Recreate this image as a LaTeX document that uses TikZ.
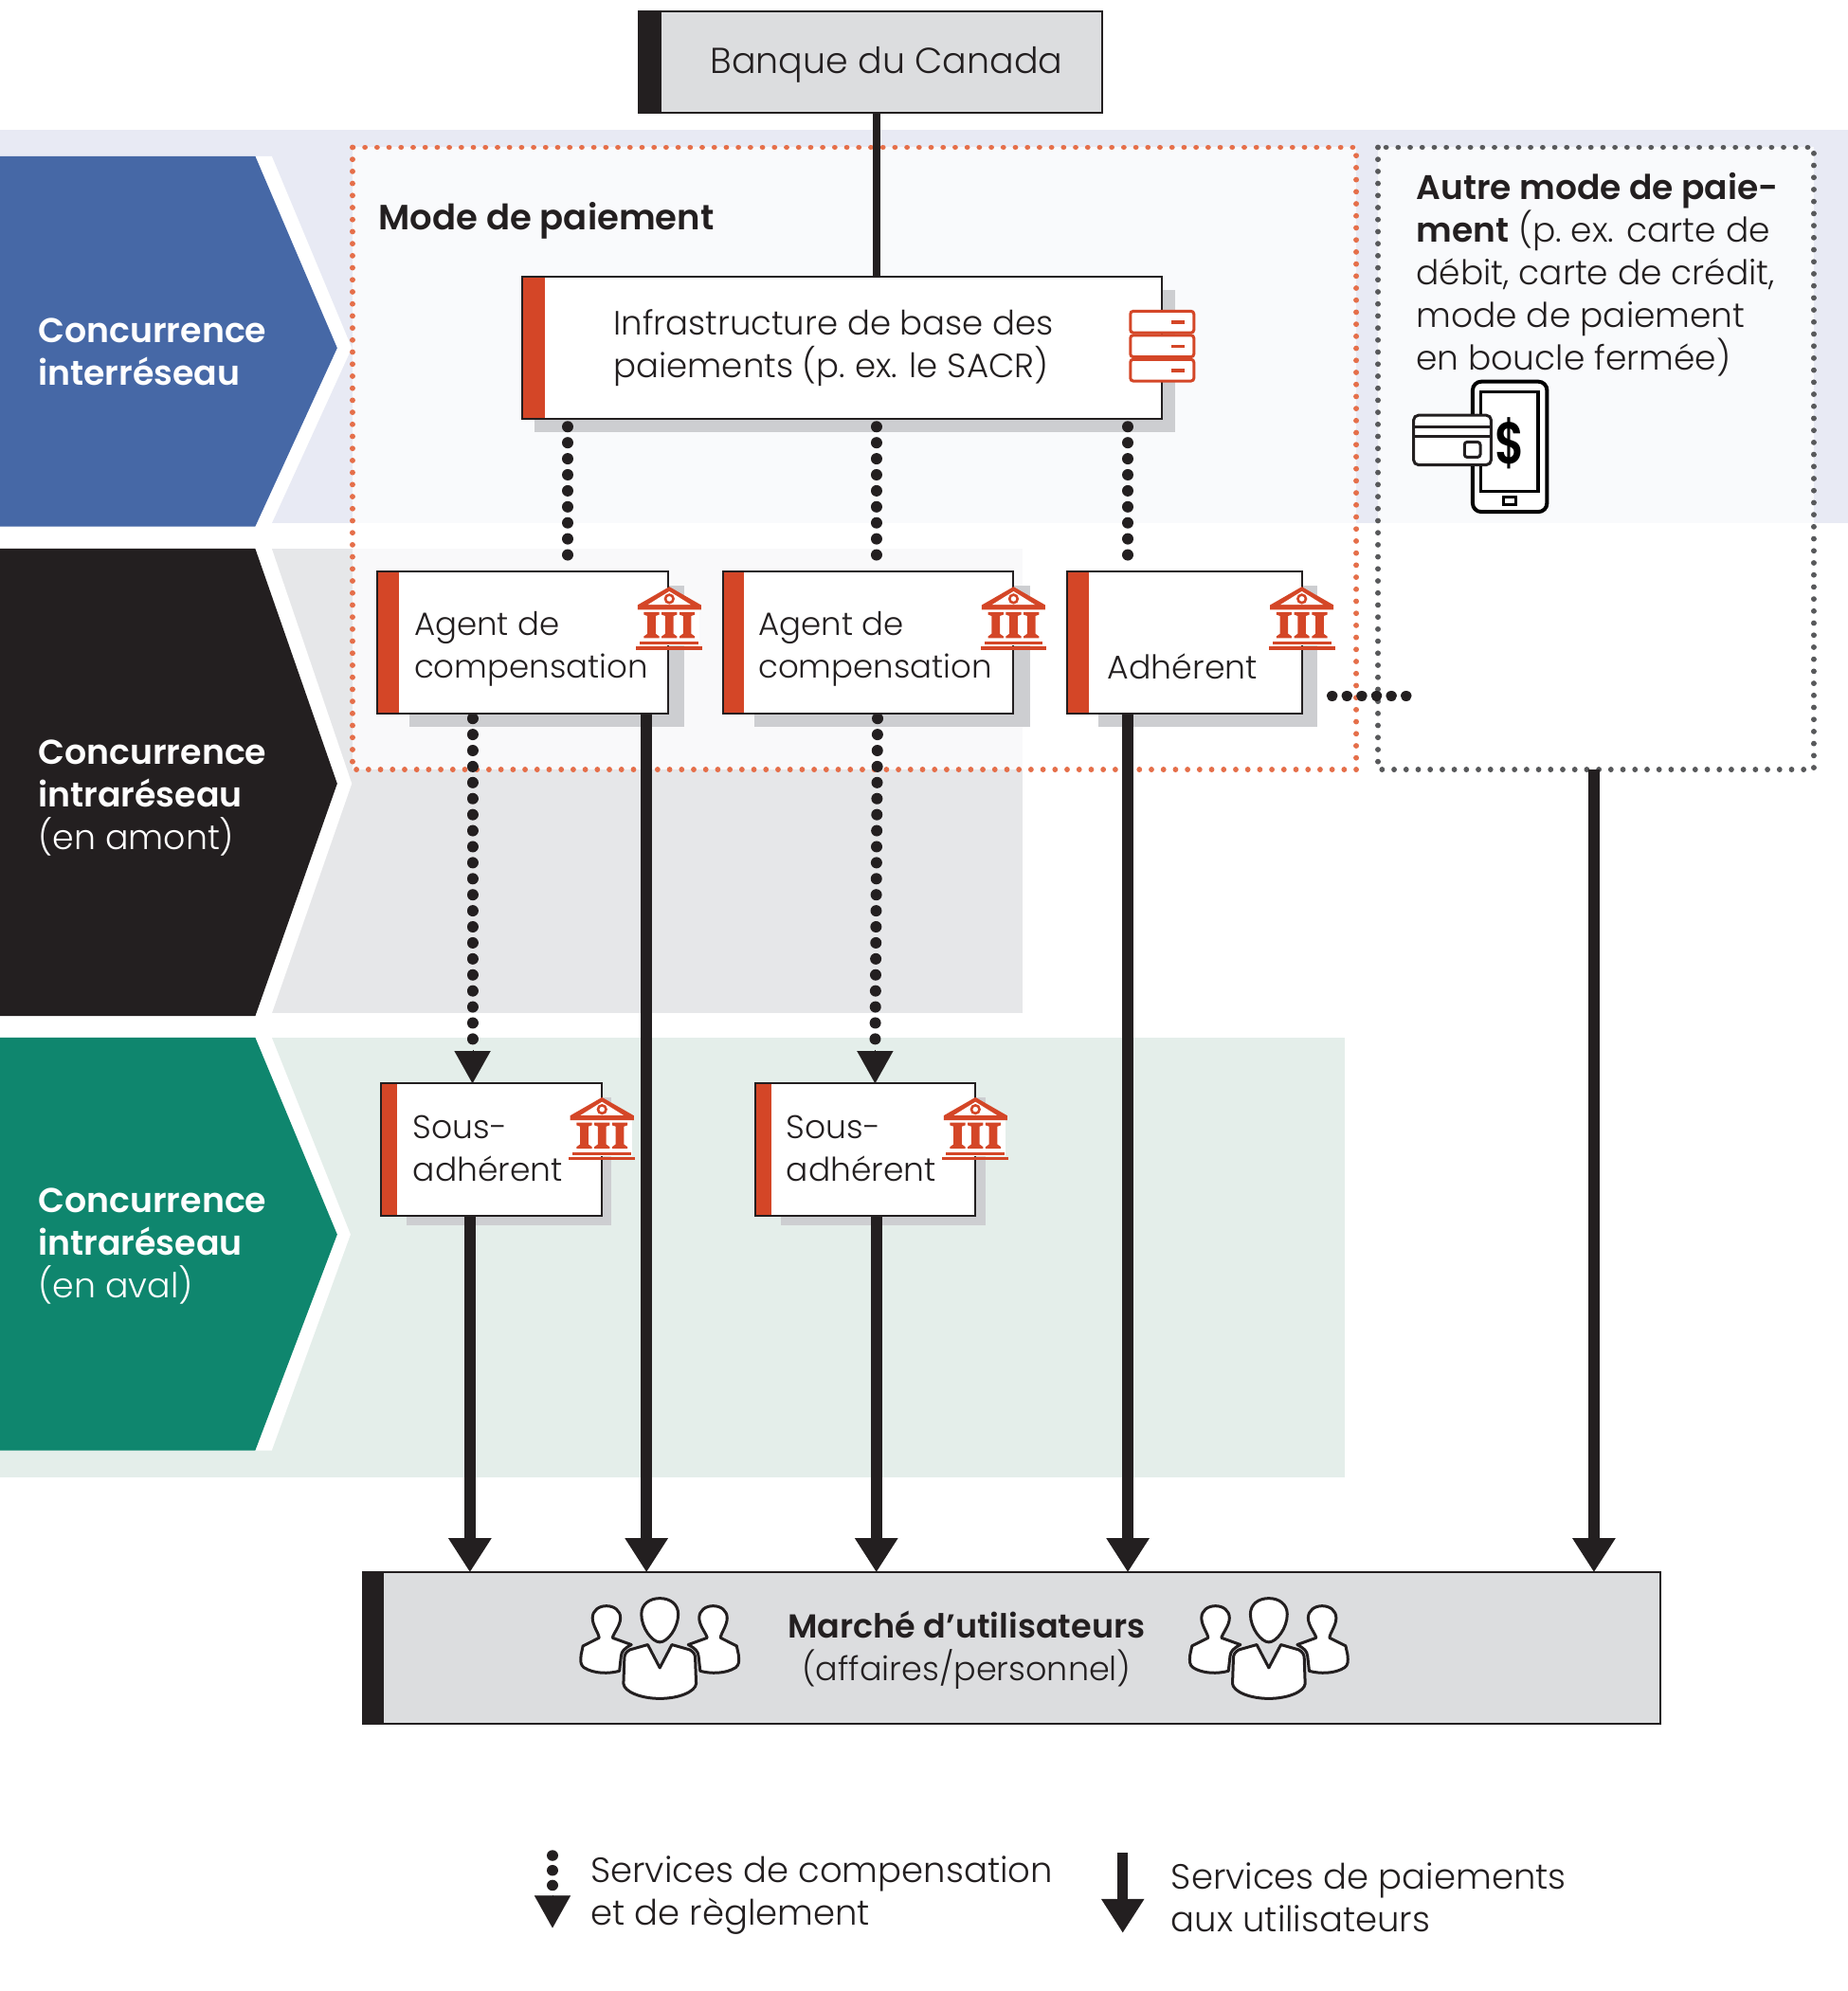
\documentclass[tikz,border=0pt]{standalone}
\usepackage{fontspec}
\usepackage{graphicx}
\setmainfont{Poppins}[UprightFont=* Light,BoldFont=* SemiBold]
\usetikzlibrary{arrows.meta,calc}
\definecolor{ink}{HTML}{231F20}
\definecolor{bandblue}{HTML}{E8EAF4}
\definecolor{bandgray}{HTML}{E6E7E9}
\definecolor{bandgreen}{HTML}{E4EEEA}
\definecolor{chevblue}{HTML}{4668A6}
\definecolor{chevgreen}{HTML}{0F866E}
\definecolor{boxgray}{HTML}{DCDDDF}
\definecolor{shadowgray}{HTML}{CDCED1}
\definecolor{accent}{HTML}{D44627}
\definecolor{dotred}{HTML}{E56F4A}
\definecolor{dotgray}{HTML}{58595B}
\newcommand\fs[1]{\fontsize{#1}{45}\selectfont}
\tikzset{
  boxnode/.style={draw=ink,line width=2pt,inner sep=0pt,outer sep=0pt,anchor=north west},
  txt/.style={anchor=west,align=left,inner sep=0pt,text=ink,font=\fs{36}},
  txtc/.style={anchor=center,align=center,inner sep=0pt,text=ink,font=\fs{36}},
  chevtxt/.style={anchor=west,align=left,inner sep=0pt,text=white,font=\fs{36.3}},
  solidarrow/.style={draw=ink,line width=12pt,-{Triangle[width=43pt,length=36pt]}},
  dotline/.style={draw=ink,line width=12pt,line cap=round,dash pattern=on 0.01pt off 16.9pt},
  dottip/.style={draw=ink,line width=.1pt,-{Triangle[width=38pt,length=34pt]}},
  redframe/.style={draw=dotred,line width=5.8pt,line cap=round,dash pattern=on 0.01pt off 12.7pt,fill=white,fill opacity=.78},
  grayframe/.style={draw=dotgray,line width=5.8pt,line cap=round,dash pattern=on 0.01pt off 12.7pt,fill=white,fill opacity=.78},
  iconline/.style={draw=accent,line width=3pt,fill=white,rounded corners=3pt},
  pers/.style={draw=ink,line width=3pt,fill=white,line join=round},
}
\newcommand\bx[8]{%
  \node[boxnode,fill=#6,minimum width={(#4-#2)*1.3402pt},minimum height={(#5-#3)*1.3402pt}] (#1) at (#2,#3) {};
  \fill[#7] (#1.north west) rectangle ($(#1.south west)+(#8,0)$);
  \draw[ink,line width=2pt] (#1.north west) rectangle (#1.south east);
}
\newcommand\bankicon[2]{%
  \begin{scope}[shift={(#1,#2)}]
    \fill[white] (-24,18) rectangle (24,46);
    \fill[accent] (0,0)--(-25,14.4)--(-25,18)--(25,18)--(25,14.4)--cycle;
    \fill[white] (0,3.6)--(-17,14.2)--(17,14.2)--cycle;
    \draw[accent,line width=2.6pt] (0,9.5) circle (3.2);
    \foreach \c in {-14,0,14}{
      \fill[accent] (\c-6,20)--(\c+6,20)--(\c+6,22)--(\c+3.2,23)--(\c+3.2,37)--(\c+6,39)--(\c+6,40.5)--(\c-6,40.5)--(\c-6,39)--(\c-3.2,37)--(\c-3.2,23)--(\c-6,22)--cycle;
    }
    \fill[accent] (-23,43) rectangle (23,45.2);
    \fill[accent] (-26,47) rectangle (26,49.5);
  \end{scope}
}
\newcommand\peopleicon[2]{%
  \begin{scope}[shift={(#1,#2)}]
    \foreach \s in {1,-1}{
      \begin{scope}[xscale=\s]
        \path[pers] (-47.8,31.6) .. controls (-48,28) and (-53,22) .. (-53,16) .. controls (-53,10) and (-48,6.5) .. (-42,6.5) .. controls (-36,6.5) and (-31,10) .. (-31,16) .. controls (-31,22) and (-36.5,28) .. (-37.3,31.6) -- (-22.4,37) .. controls (-28,40) and (-30,42) .. (-30.5,46) -- (-31.8,57.7) .. controls (-40,60) and (-52,60) .. (-59.7,55) .. controls (-62.5,53) and (-62.5,50) .. (-62,45) -- (-60.5,38) -- cycle;
      \end{scope}
    }
    \path[pers] (-9.5,37) -- (-23.6,41) .. controls (-27,43) and (-27.9,45) .. (-27.9,48) -- (-28.6,67.7) .. controls (-28,74) and (-15,79.4) .. (0,79.4) .. controls (15,79.4) and (28,74) .. (28.6,67.7) -- (27.9,48) .. controls (27.9,45) and (27,43) .. (23.6,41) -- (9.5,37) -- (0,55.2) -- cycle;
    \path[pers] (0,35) .. controls (-6,35) and (-14.5,24) .. (-14.5,13) .. controls (-14.5,5) and (-8,0.5) .. (0,0.5) .. controls (8,0.5) and (14.5,5) .. (14.5,13) .. controls (14.5,24) and (6,35) .. (0,35) -- cycle;
  \end{scope}
}
\begin{document}
\begin{tikzpicture}[x=1.3402pt,y=-1.3402pt]
\useasboundingbox (0,0) rectangle (1455,1567.7);
% bands
\fill[bandblue] (0,102) rectangle (1455,412);
\fill[bandgray] (0,432) rectangle (805,798);
\fill[bandgreen] (0,817) rectangle (1059,1163);
% white gaps
\fill[white] (0,123)--(214,123)--(277,274)--(214,412)--(0,412)--cycle;
\fill[white] (0,432)--(214,432)--(277,617)--(214,798)--(0,798)--cycle;
\fill[white] (0,817)--(214,817)--(276,972)--(214,1142)--(0,1142)--cycle;
% chevrons
\fill[chevblue] (0,123)--(201,123)--(265.5,274)--(201,414.5)--(0,414.5)--cycle;
\fill[ink] (0,432)--(201,432)--(265.5,617)--(201,800)--(0,800)--cycle;
\fill[chevgreen] (0,817)--(201,817)--(265.5,972)--(201,1142)--(0,1142)--cycle;
\node[chevtxt] (c1) at (30,277) {\textbf{Concurrence}\\\textbf{interréseau}};
\node[chevtxt] (c2) at (30,628) {\textbf{Concurrence}\\\textbf{intraréseau}\\(en amont)};
\node[chevtxt] (c3) at (30,981) {\textbf{Concurrence}\\\textbf{intraréseau}\\(en aval)};
% dotted frames
\path[redframe] (277.5,116) rectangle (1068,606);
\path[grayframe] (1085,116) rectangle (1428,606);
\coordinate (autreout) at (1255,606);
% shadows
\fill[shadowgray] (421,228) rectangle (925,340);
\fill[shadowgray] (322,461) rectangle (539,572);
\fill[shadowgray] (594,461) rectangle (811,572);
\fill[shadowgray] (865,461) rectangle (1037,572);
\fill[shadowgray] (320,864) rectangle (481,965);
\fill[shadowgray] (615,864) rectangle (776,965);
% boxes
\bx{bdc}{503}{9}{868}{89}{boxgray}{ink}{18}
\bx{infra}{411}{218}{915}{330}{white}{accent}{18}
\bx{ag1}{297}{450}{526}{562}{white}{accent}{17}
\bx{ag2}{569}{450}{798}{562}{white}{accent}{17}
\bx{adh}{840}{450}{1025}{562}{white}{accent}{17}
\bx{sa1}{300}{853}{474}{957}{white}{accent}{13}
\bx{sa2}{595}{853}{768}{957}{white}{accent}{12}
\bx{mkt}{286}{1238}{1307}{1357}{boxgray}{ink}{16}
% connector anchors
\coordinate (bdcout) at (690,89);
\coordinate (inf1) at (447,330);
\coordinate (inf2) at (690,330);
\coordinate (inf3) at (888,330);
\coordinate (ag1d) at (372,562);
\coordinate (ag1s) at (509,562);
\coordinate (ag2d) at (691,562);
\coordinate (sa2d) at (689,853);
\coordinate (sa1d) at (372,853);
\coordinate (sa1dt) at (372,827);
\coordinate (sa2dt) at (689,827);
\coordinate (adhs) at (888,562);
\coordinate (sa1s) at (370,957);
\coordinate (sa2s) at (690,957);
\coordinate (adhr) at (1025,548);
\coordinate (autrel) at (1112,548);
% connectors
\draw[ink,line width=8pt] (bdcout) -- (bdcout |- infra.north);
\draw[dotline,shorten <=8pt,shorten >=12pt] (inf1) -- (inf1 |- ag1.north);
\draw[dotline,shorten <=8pt,shorten >=12pt] (inf2) -- (inf2 |- ag2.north);
\draw[dotline,shorten <=8pt,shorten >=12pt] (inf3) -- (inf3 |- adh.north);
\draw[dotline,shorten <=5pt] (ag1d) -- (sa1dt);
\draw[dotline,shorten <=5pt] (ag2d) -- (sa2dt);
\draw[dottip] (sa1dt) -- (sa1d);
\draw[dottip] (sa2dt) -- (sa2d);
\draw[solidarrow] (ag1s) -- (ag1s |- mkt.north);
\draw[solidarrow] (sa1s) -- (sa1s |- mkt.north);
\draw[solidarrow] (sa2s) -- (sa2s |- mkt.north);
\draw[solidarrow] (adhs) -- (adhs |- mkt.north);
\draw[solidarrow] (autreout) -- (autreout |- mkt.north);
\draw[draw=ink,line width=11.5pt,line cap=round,dash pattern=on 0.01pt off 15.6pt,shorten <=32pt] (adhr) -- (autrel);
% texts
\node[txtc,font=\fs{38}] (bdct) at (698,51) {Banque du Canada};
\node[txt,font=\fs{37}] (modet) at (298,174) {\textbf{Mode de paiement}};
\node[txt,font=\fs{35.5}] (inft) at (483,274) {Infrastructure de base des\\paiements (p.~ex. le SACR)};
\node[txt,font=\fs{34}] (ag1t) at (326,511) {Agent de\\compensation};
\node[txt,font=\fs{34}] (ag2t) at (597,511) {Agent de\\compensation};
\node[txt,font=\fs{34.7}] (adht) at (872,525) {Adhérent};
\node[txt,font=\fs{34.5}] (sa1t) at (325,904) {Sous-\\adhérent};
\node[txt,font=\fs{34.5}] (sa2t) at (619,904) {Sous-\\adhérent};
\node[txt] (autret) at (1115,216) {\textbf{Autre mode de paie-}\\\textbf{ment} (p.~ex. carte de\\débit, carte de crédit,\\mode de paiement\\en boucle fermée)};
\node[txtc,font=\fs{35}] (mktt) at (761,1299) {\textbf{Marché d’utilisateurs}\\(affaires/personnel)};
% icons
\bankicon{527}{462}
\bankicon{798}{462}
\bankicon{1025}{462}
\bankicon{474}{864}
\bankicon{768}{864}
\foreach \y in {245,264,283}{
  \path[iconline] (890,\y) rectangle (940,\y+17);
  \fill[accent] (922,\y+7.5) rectangle (933,\y+10);
}
% payment icon
\draw[black,line width=4pt,rounded corners=9pt,fill=white] (1159.5,300.5) rectangle (1218,403);
\draw[black,line width=3.5pt] (1166,308.5) rectangle (1211,387);
\draw[black,line width=3pt] (1183.5,391) rectangle (1193.5,397.5);
\node[inner sep=0pt,text=black,font=\fontsize{62}{62}\selectfont\bfseries] (dollar) at (1188.5,349) {\scalebox{.78}[1]{\$}};
\draw[ink,line width=3pt,rounded corners=5pt,fill=white] (1113,327) rectangle (1174,366);
\draw[ink,line width=3pt] (1113,336.5) -- (1174,336.5);
\draw[ink,line width=3pt] (1113,343.5) -- (1174,343.5);
\draw[ink,line width=3pt,rounded corners=3pt] (1153,348) rectangle (1165.5,360);
\peopleicon{519.5}{1258}
\peopleicon{999}{1258}
% legend
\coordinate (lga) at (435,1461);
\coordinate (lgm) at (435,1490);
\coordinate (lgt) at (435,1493);
\coordinate (lgb) at (435,1518);
\coordinate (lgc) at (884,1459);
\coordinate (lgd) at (884,1522);
\draw[ink,line width=11.5pt,line cap=round,dash pattern=on 0.01pt off 15.7pt] (lga) -- (lgm);
\draw[dottip] (lgt) -- (lgb);
\draw[solidarrow,line width=11pt] (lgc) -- (lgd);
\node[txt,font=\fs{37}] (lgat) at (465,1492) {Services de compensation\\et de règlement};
\node[txt,font=\fs{37}] (lgbt) at (922,1494) {Services de paiements\\aux utilisateurs};
\end{tikzpicture}
\end{document}
